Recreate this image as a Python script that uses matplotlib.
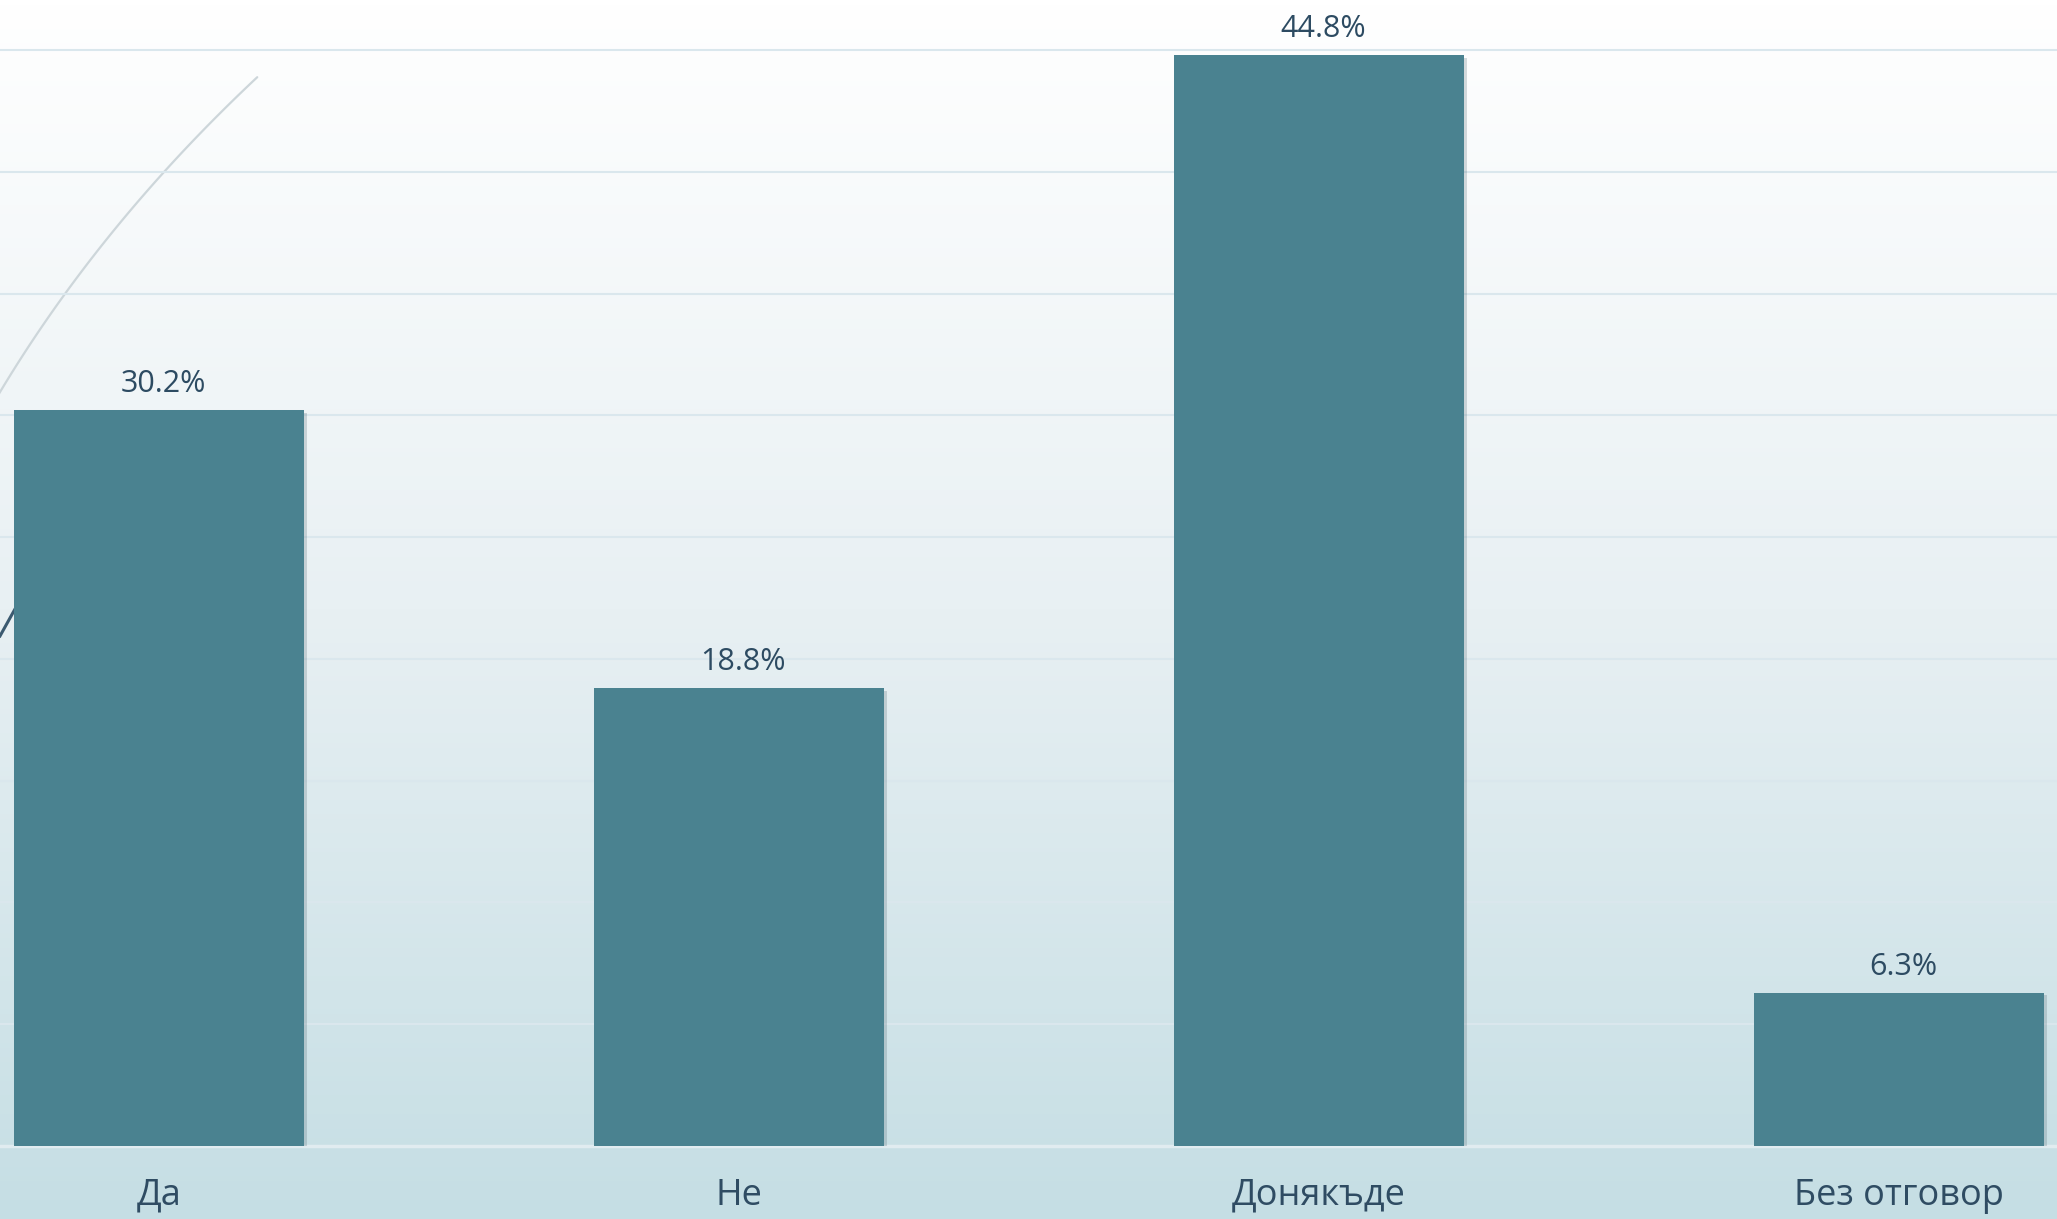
import matplotlib
matplotlib.use('Agg')
import matplotlib.pyplot as plt
import numpy as np
from matplotlib import patheffects as pe
from matplotlib.colors import LinearSegmentedColormap

categories = ['Да', 'Не', 'Донякъде', 'Без отговор']
values = [30.2, 18.8, 44.8, 6.3]
value_labels = ['30.2%', '18.8%', '44.8%', '6.3%']

plt.rcParams['font.family'] = ['Open Sans', 'DejaVu Sans']

W, H = 2057, 1219
fig = plt.figure(figsize=(W / 100, H / 100), dpi=100)

# background gradient
bg = fig.add_axes([0, 0, 1, 1], zorder=-10)
grad = np.linspace(0, 1, 256).reshape(-1, 1)
cmap = LinearSegmentedColormap.from_list('bg', ['#ffffff', '#e8f0f3', '#c5dee4'])
bg.imshow(grad, aspect='auto', cmap=cmap, extent=[0, 1, 0, 1], origin='upper')
bg.set_xlim(0, 1)
bg.set_ylim(0, 1)
bg.axis('off')

# decorative slide elements (partially hidden behind the chart)
arc_px = np.array([[0, 393], [65, 293], [165, 170], [255, 80]], dtype=float)
t = np.linspace(0, 1, 100)
tp = np.linspace(0, 1, len(arc_px))
cx = np.polyfit(tp, arc_px[:, 0], 2)
cy = np.polyfit(tp, arc_px[:, 1], 2)
ax_arc = np.polyval(cx, t) / W
ay_arc = 1 - np.polyval(cy, t) / H
bg.plot(ax_arc, ay_arc, color='#cdd6da', lw=1.6, solid_capstyle='round')
bg.plot([0 / W, 20 / W], [1 - 636 / H, 1 - 600 / H], color='#3b5a70', lw=2.2)

# main axes
ax = fig.add_axes([0, 73 / H, 1, 1096 / H])
ax.patch.set_visible(False)
x = np.arange(len(categories))
ax.bar(x, values, width=0.5, color='#4a8290', zorder=3,
       path_effects=[pe.SimplePatchShadow(offset=(2, -2), shadow_rgbFace='#5a6f78', alpha=0.25),
                     pe.Normal()])
ax.set_xlim(-0.274, 3.272)
ax.set_ylim(0, 45)
ax.set_yticks(np.arange(0, 46, 5))
ax.yaxis.grid(True, color='#dae7ed', lw=1.5, zorder=0)
for gl in ax.yaxis.get_gridlines():
    gl.set_clip_on(False)
ax.axhline(0, color='#e1ecf0', lw=2.5, zorder=2, clip_on=False)
ax.tick_params(axis='y', left=False, labelleft=False)
ax.set_xticks(x, categories, fontsize=26, color='#2f4c63')
ax.tick_params(axis='x', length=0, pad=23)
for s in ax.spines.values():
    s.set_visible(False)

for xi, v, lbl in zip(x, values, value_labels):
    ax.annotate(lbl, (xi, v), xytext=(3, 13), textcoords='offset points',
                ha='center', va='baseline', fontsize=22, color='#2d4b62',
                annotation_clip=False)

fig.savefig('out.png', dpi=100)
